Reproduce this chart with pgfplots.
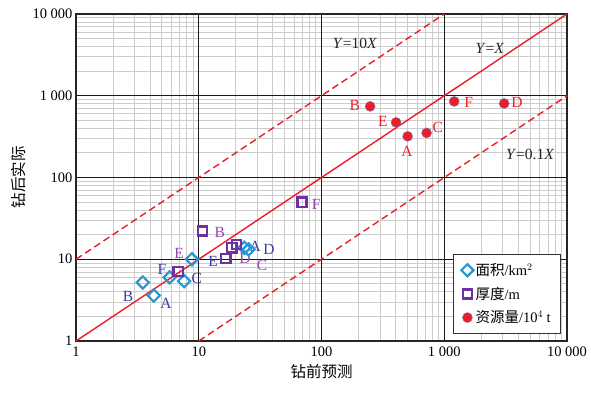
\documentclass[border=0pt]{standalone}
\usepackage{pgfplots}
\pgfplotsset{compat=1.18}
\usepackage{fontspec}
\setmainfont{Liberation Serif}
\newfontfamily\cjk{Noto Sans CJK SC}
\definecolor{cblue}{RGB}{40,150,210}
\definecolor{cpurple}{RGB}{112,48,160}
\definecolor{cred}{RGB}{235,30,40}
\definecolor{lblue}{RGB}{60,60,160}
\definecolor{lpurple}{RGB}{150,70,170}
\begin{document}
\begin{tikzpicture}
\begin{axis}[
  scale only axis,
  width=491pt, height=327pt,
  xmode=log, ymode=log,
  xmin=1, xmax=10000, ymin=1, ymax=10000,
  xtick={1,10,100,1000,10000},
  ytick={1,10,100,1000,10000},
  major tick length=0pt, minor tick length=0pt,
  axis line style={solid, draw=black!85, line width=1.2pt},
  xticklabels={}, yticklabels={},
  grid=minor,
  minor grid style={solid, draw=black!20, line width=0.8pt},
]
\end{axis}
\begin{axis}[
  scale only axis,
  width=491pt, height=327pt,
  xmode=log, ymode=log,
  xmin=1, xmax=10000, ymin=1, ymax=10000,
  xtick={1,10,100,1000,10000},
  ytick={1,10,100,1000,10000},
  major tick length=0pt, minor tick length=0pt,
  axis line style={solid, draw=black!85, line width=1.2pt},
  xticklabels={1,10,100,1\ 000,10\ 000},
  yticklabels={1,10,100,1\ 000,10\ 000},
  /pgf/number format/assume math mode=true,
  tick label style={font=\fontsize{14.5}{16}\selectfont},
  xticklabel style={yshift=-2pt},
  grid=major,
  major grid style={solid, draw=black!90, line width=1.2pt},
  xlabel={\cjk 钻前预测},
  ylabel={\cjk 钻后实际},
  label style={font=\fontsize{15.5}{17}\selectfont},
  xlabel style={yshift=-1pt},
  legend style={at={(0.988,0.022)}, anchor=south east, draw=black!80, line width=0.8pt,
    font=\fontsize{14.5}{16}\selectfont, row sep=6pt, inner xsep=8pt, inner ysep=7pt,
    nodes={inner sep=2pt}},
  legend cell align=left,
  clip=true,
]
\addplot[cred, line width=1.4pt, dash pattern=on 7pt off 4pt, forget plot] coordinates {(1,10) (1000,10000)};
\addplot[cred, line width=1.4pt, solid, forget plot] coordinates {(1,1) (10000,10000)};
\addplot[cred, line width=1.4pt, dash pattern=on 7pt off 4pt, forget plot] coordinates {(10,1) (10000,1000)};

\addplot[only marks, mark=square, mark size=4.3pt, mark options={solid, rotate=45, draw=cblue, fill=white, line width=2.2pt}] coordinates {
 (3.5,5.2) (4.3,3.6) (5.8,6.0) (7.6,5.4) (8.8,10.0) (25.5,13.2) (23.5,13.8)
};
\addlegendentry{\cjk 面积\rmfamily/km$^{2}$}
\addplot[only marks, mark=square, mark size=4.6pt, mark options={solid, draw=cpurple, fill=white, line width=2.4pt}] coordinates {
 (10.7,22.1) (6.8,7.1) (16.6,10.2) (18.6,13.8) (20.3,15.2) (69.4,50)
};
\addlegendentry{\cjk 厚度\rmfamily/m}
\addplot[only marks, mark=*, mark size=5pt, mark options={solid, draw=lblue!70, fill=cred, line width=0.5pt}] coordinates {
 (249,741) (405,472) (503,319) (718,351) (1205,852) (3076,805)
};
\addlegendentry{\cjk 资源量\rmfamily/10$^{4}$ t}

\begin{scope}[every node/.style={font=\fontsize{15.5}{17}\selectfont}]
\node[lblue] at (rel axis cs:0.106,0.135) {B};
\node[lblue] at (rel axis cs:0.183,0.116) {A};
\node[lblue] at (rel axis cs:0.175,0.220) {F};
\node[lblue] at (rel axis cs:0.246,0.190) {C};
\node[lblue] at (rel axis cs:0.279,0.242) {E};
\node[lblue] at (rel axis cs:0.365,0.290) {A};
\node[lblue] at (rel axis cs:0.393,0.281) {D};
\node[lpurple] at (rel axis cs:0.210,0.269) {E};
\node[lpurple] at (rel axis cs:0.293,0.333) {B};
\node[lpurple] at (rel axis cs:0.344,0.254) {D};
\node[lpurple] at (rel axis cs:0.379,0.232) {C};
\node[lpurple] at (rel axis cs:0.489,0.419) {F};
\node[cred] at (rel axis cs:0.568,0.719) {B};
\node[cred] at (rel axis cs:0.625,0.670) {E};
\node[cred] at (rel axis cs:0.674,0.581) {A};
\node[cred] at (rel axis cs:0.737,0.654) {C};
\node[cred] at (rel axis cs:0.800,0.731) {F};
\node[cred] at (rel axis cs:0.898,0.728) {D};
\node[black!85] at (rel axis cs:0.568,0.911) {\textit{Y}=10\textit{X}};
\node[black!85] at (rel axis cs:0.843,0.896) {\textit{Y}=\textit{X}};
\node[black!85] at (rel axis cs:0.925,0.569) {\textit{Y}=0.1\textit{X}};
\end{scope}
\end{axis}
\path (-76pt,-52pt) rectangle (515pt,341pt);
\end{tikzpicture}
\end{document}
